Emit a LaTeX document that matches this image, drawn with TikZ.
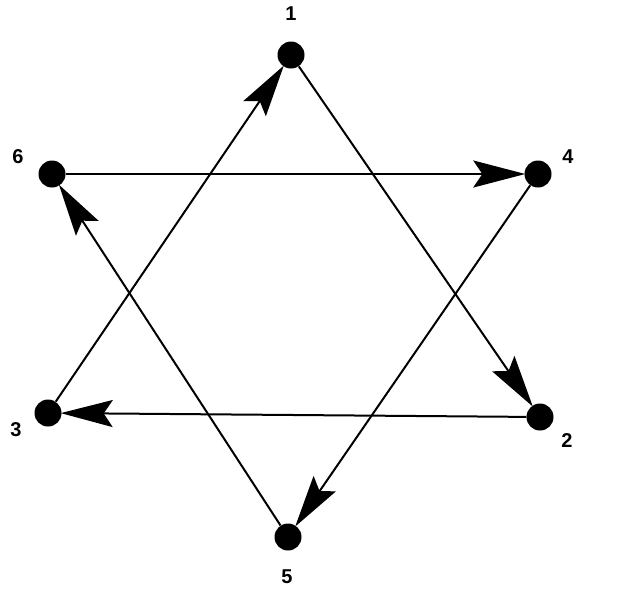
\documentclass[tikz,border=0pt]{standalone}
\usepackage{fontspec}
\setmainfont{Liberation Sans}
\usetikzlibrary{arrows.meta}
\begin{document}
\begin{tikzpicture}[x=1pt,y=-1pt,
  dot/.style={circle,fill=black,inner sep=0pt,minimum size=27pt},
  lbl/.style={font=\bfseries\fontsize{20}{20}\selectfont},
  edge/.style={line width=2pt,-{Stealth[length=52pt,width=27pt,inset=9pt]},shorten >=-1pt}]
\useasboundingbox (0,0) rectangle (640,590);
\node[dot] (n1) at (291,55) {};
\node[dot] (n4) at (538,174) {};
\node[dot] (n2) at (540,417) {};
\node[dot] (n5) at (288,537) {};
\node[dot] (n3) at (48,413) {};
\node[dot] (n6) at (52,174) {};
\node[lbl] (l1) at (291,14) {1};
\node[lbl] (l4) at (568,157) {4};
\node[lbl] (l2) at (567,441) {2};
\node[lbl] (l5) at (287,577) {5};
\node[lbl] (l3) at (16,430) {3};
\node[lbl] (l6) at (18,157) {6};
\draw[edge] (n1) -- (n2);
\draw[edge] (n2) -- (n3);
\draw[edge] (n3) -- (n1);
\draw[edge] (n4) -- (n5);
\draw[edge] (n5) -- (n6);
\draw[edge] (n6) -- (n4);
\end{tikzpicture}
\end{document}
